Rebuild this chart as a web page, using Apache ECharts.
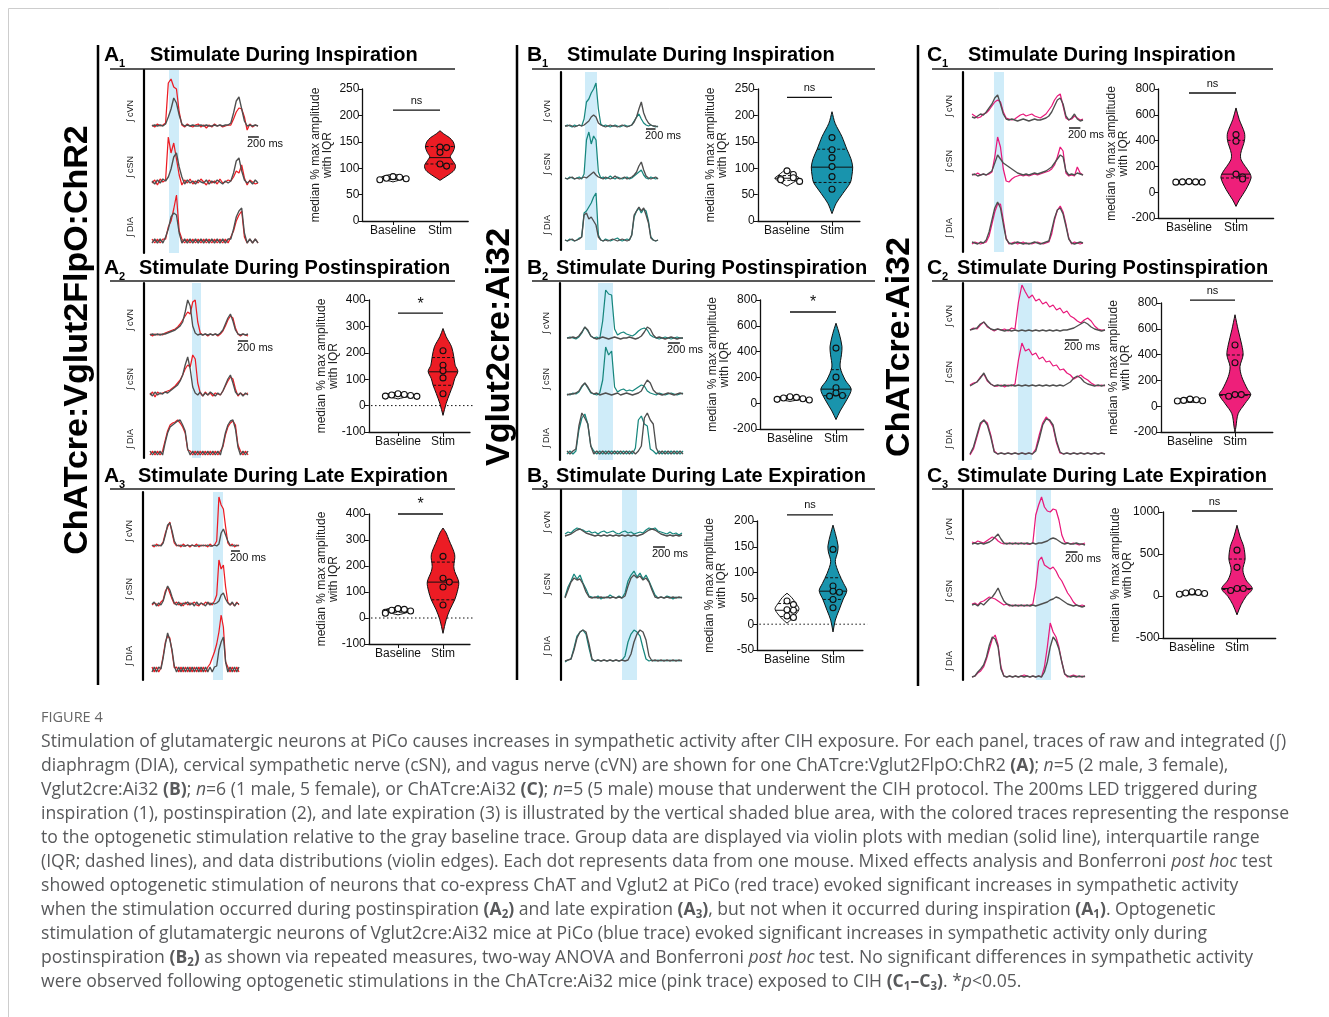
<!DOCTYPE html>
<html>
<head>
<meta charset="utf-8">
<script src="https://cdn.jsdelivr.net/npm/echarts@6/dist/echarts.min.js"></script>
<style>
  html, body { margin: 0; background: #fff; }
  #chart { width: 1329px; height: 1017px; }
</style>
</head>
<body>
<div id="chart"></div>
<script>
// ---- trace data: integrated nerve activity (a.u.), one sample every 50 ms ----
const STEP = 50;
const channels = ['cVN', 'cSN', 'DIA'];
const groups = ['Baseline', 'Stim'];

const a1_cvn_stim = [2,0,3,1,2,4,44,48,40,38, 15,2,0,3,1,0,2,3,0,2, -1,2,0,3,1,2,0,1,2,2, 8,15,19,18,10,-3,3,0,2,1];
const a1_cvn_ctrl = [1,2,1,2,1,3,10,18,29,24, 12,3,1,2,1,2,1,1,2,1, 2,1,1,2,1,2,1,2,2,4, 14,26,30,18,6,1,2,1,2,1];
const a1_csn_stim = [0,3,-2,4,1,3,46,30,40,24, 8,-2,3,0,4,-1,2,0,4,1, -2,3,0,2,-1,4,0,1,3,2, 6,12,10,18,5,-2,3,1,-1,0];
const a1_csn_ctrl = [2,-1,3,0,4,2,6,14,26,30, 16,6,-1,3,0,2,-1,3,1,0, 3,-1,2,0,3,1,-1,2,0,2, 10,22,25,12,3,0,2,-1,3,0];
const a1_dia_stim = [4,0,4,0,4,4,16,22,34,48, 12,4,0,4,0,4,0,4,0,4, 0,4,0,4,0,4,0,4,0,6, 12,22,28,32,6,0,4,0,4,0];
const a1_dia_ctrl = [0,4,0,4,0,6,14,26,30,28, 10,0,4,0,4,0,4,0,4,0, 4,0,4,0,4,0,4,0,4,4, 14,26,32,35,10,0,4,0,4,0];

const a2_cvn_stim = [2,0,2,1,2,1,3,4,5,6, 7,9,12,16,20,24,22,34,36,14, 3,1,2,0,2,1,2,0,2,5, 10,16,20,18,8,2,0,2,1,0];
const a2_cvn_ctrl = [1,2,1,2,1,2,2,3,4,5, 6,8,10,14,24,36,30,10,3,1, 2,1,2,1,2,1,2,1,3,6, 12,18,22,15,6,2,1,2,1,2];
const a2_csn_stim = [0,3,-2,3,1,2,3,4,5,7, 9,12,15,20,26,30,28,40,36,12, 2,-1,3,0,2,-1,2,1,0,4, 9,14,18,16,6,-1,2,0,1,2];
const a2_csn_ctrl = [2,-1,3,0,2,1,3,2,4,6, 8,10,14,20,30,38,26,8,2,0, 3,-1,2,0,3,1,-1,2,0,4, 10,16,20,12,3,0,2,-1,2,0];
const a2_dia_stim = [0,4,0,4,0,4,14,24,30,32, 33,35,32,28,22,5,4,0,4,0, 4,0,4,0,4,0,4,0,4,8, 20,28,32,34,30,10,4,0,4,0];
const a2_dia_ctrl = [4,0,4,0,4,0,12,22,28,30, 32,34,35,30,24,6,0,4,0,4, 0,4,0,4,0,4,0,4,0,10, 22,30,34,35,26,8,0,4,0,4];

const a3_cvn_stim = [2,0,3,1,2,5,14,20,25,14, 4,1,2,0,3,1,2,0,2,1, 3,0,2,1,2,0,3,1,2,6, 50,42,38,20,4,1,3,0,2,1];
const a3_cvn_ctrl = [1,2,1,2,1,4,12,22,24,16, 6,2,1,2,1,1,2,1,2,1, 1,2,1,2,1,2,1,1,2,1, 3,14,18,12,6,2,1,2,1,2];
const a3_csn_stim = [0,2,1,-1,3,5,14,18,12,6, 1,3,0,2,-1,3,0,2,1,3, 0,-1,2,0,3,1,2,0,4,10, 45,36,40,18,3,0,2,-1,3,0];
const a3_csn_ctrl = [1,3,-1,2,0,4,12,19,15,8, 2,0,3,-1,2,1,3,0,2,-1, 3,0,2,1,-1,3,0,2,1,2, 4,10,12,6,2,0,3,-1,2,1];
const a3_dia_stim = [5,0,5,0,4,16,30,36,34,20, 4,5,0,5,0,5,0,5,0,5, 0,5,0,5,0,5,8,14,20,28, 40,57,45,10,5,0,5,0,5,0];
const a3_dia_ctrl = [0,5,0,5,3,14,28,39,32,22, 6,0,5,0,5,0,5,0,5,0, 5,0,5,0,5,0,5,0,5,6, 22,30,35,10,0,5,0,5,0,5];

const b1_cvn_stim = [1,2,1,0,2,1,2,1,8,25, 28,34,38,44,18,3,1,2,1,0, 1,2,1,0,1,2,1,1,2,6, 10,13,8,4,2,1,2,1,0,1];
const b1_cvn_ctrl = [1,1,2,1,0,1,2,1,2,4, 6,10,12,10,4,2,1,0,1,2, 1,1,0,1,2,1,0,1,2,5, 10,18,25,14,8,4,2,1,1,0];
const b1_csn_stim = [2,1,3,2,1,2,3,1,6,40, 48,36,44,40,8,2,3,1,2,4, 2,1,3,2,1,2,3,1,2,4, 6,8,10,5,2,1,3,2,1,2];
const b1_csn_ctrl = [2,1,2,3,1,2,1,2,3,2, 4,6,8,5,3,2,1,3,2,1, 2,4,2,1,2,3,1,2,3,5, 8,14,18,10,4,2,1,2,3,1];
const b1_dia_stim = [1,0,2,1,0,1,3,4,28,30, 34,38,44,48,6,1,0,2,1,0, 1,2,3,1,0,1,2,1,6,24, 30,33,28,32,30,20,4,1,0,1];
const b1_dia_ctrl = [1,0,1,2,0,1,2,4,26,28, 22,24,20,16,4,1,0,1,0,1, 2,1,0,1,2,1,0,1,6,26, 30,34,30,33,26,18,3,1,0,1];

const b2_cvn_stim = [1,2,1,0,2,6,12,8,3,1, 2,0,18,49,45,44,10,4,6,7, 5,4,3,5,8,10,11,9,4,2, 1,0,1,2,1,0,1,2,1,1];
const b2_cvn_ctrl = [1,1,2,1,3,7,12,9,3,1, 0,1,2,1,0,1,2,1,0,1, 1,2,1,0,1,3,7,12,10,4, 1,2,1,0,1,2,1,0,1,1];
const b2_csn_stim = [1,0,2,1,3,8,12,7,2,1, 0,2,15,48,40,44,8,3,5,6, 4,5,4,6,8,10,9,4,2,1, 0,2,1,0,1,2,1,0,1,2];
const b2_csn_ctrl = [0,1,1,2,4,9,12,8,3,1, 2,0,1,2,1,0,1,2,0,1, 2,1,0,1,2,4,10,15,12,5, 2,1,0,1,2,1,0,1,2,1];
const b2_dia_stim = [0,3,0,3,24,36,40,30,8,3, 0,3,0,3,0,3,0,3,0,3, 0,3,0,6,34,38,30,28,5,3, 0,3,0,3,0,3,0,3,0,3];
const b2_dia_ctrl = [3,0,3,5,28,41,36,30,8,0, 3,0,3,0,3,0,3,0,3,0, 3,0,3,0,3,8,36,41,34,30, 6,0,3,0,3,0,3,0,3,0];

const b3_cvn_stim = [4,6,5,8,10,9,8,6,7,5, 6,4,6,7,5,6,7,5,4,6, 7,5,6,4,5,6,5,8,10,9, 10,7,6,5,4,6,4,5,3,5];
const b3_cvn_ctrl = [2,3,4,6,8,9,7,5,4,3, 2,3,2,3,2,3,2,3,2,3, 2,3,2,3,2,3,4,6,8,9, 8,6,4,3,2,3,2,3,2,3];
const b3_csn_stim = [3,13,19,26,21,25,17,11,4,3, 2,4,1,3,2,5,3,2,4,2, 7,19,25,29,23,27,21,25,19,12, 5,2,3,2,4,3,1,3,2,3];
const b3_csn_ctrl = [2,10,18,22,20,21,16,8,3,2, 3,2,3,2,3,2,3,2,3,2, 4,14,22,25,22,24,20,22,18,10, 3,2,3,2,3,2,3,2,3,2];
const b3_dia_stim = [0,2,3,14,26,30,32,28,14,2, 1,2,1,2,1,2,1,2,1,2, 6,20,28,32,30,26,14,3,1,2, 1,2,1,2,1,2,1,2,1,2];
const b3_dia_ctrl = [1,2,3,12,24,30,32,30,18,3, 1,2,1,2,1,2,1,2,1,2, 1,2,8,20,28,32,30,22,6,1, 2,1,2,1,2,1,2,1,2,1];

const c1_cvn_stim = [8,6,4,5,8,9,12,16,20,22, 20,10,4,3,2,3,5,7,8,6, 7,8,6,5,4,6,8,12,16,22, 26,28,16,4,2,3,6,4,2,3];
const c1_cvn_ctrl = [5,4,6,8,7,10,14,18,24,27, 18,8,3,2,3,2,1,2,3,2, 1,2,3,2,2,3,4,6,10,16, 22,24,18,6,2,4,8,3,1,2];
const c1_csn_stim = [3,2,4,2,3,2,3,5,20,40, 30,8,-4,-5,-2,0,1,2,1,2, 1,2,3,2,3,4,5,6,8,12, 20,30,26,4,1,2,1,10,4,2];
const c1_csn_ctrl = [2,3,1,2,3,2,4,6,14,22, 18,14,12,10,8,6,4,3,2,3, 2,3,4,3,4,5,6,8,10,14, 18,22,20,6,2,3,2,4,3,2];
const c1_dia_stim = [0,2,1,0,1,2,8,20,32,40, 40,24,6,0,1,2,0,1,2,0, 1,0,1,2,1,0,1,2,10,24, 34,38,32,20,6,0,2,1,0,1];
const c1_dia_ctrl = [2,1,0,2,1,4,12,24,36,42, 36,20,5,1,0,1,2,1,0,1, 0,1,2,1,0,1,2,3,14,26, 34,36,30,18,5,1,0,1,2,1];

const c2_cvn_stim = [2,4,3,7,10,5,3,1,3,2, 3,1,4,3,30,47,40,34,37,31, 33,28,30,25,27,22,24,19,21,16, 14,11,9,12,14,11,6,3,2,2];
const c2_cvn_ctrl = [2,3,4,8,10,6,3,2,3,2, 1,2,1,2,1,2,1,2,1,2, 1,2,1,2,1,2,1,2,2,3, 4,6,8,10,8,5,3,2,1,2];
const c2_csn_stim = [3,5,6,11,14,7,4,2,2,3, 1,3,2,4,28,45,37,39,33,35, 29,31,26,27,22,23,18,19,15,13, 9,11,13,10,8,5,3,2,3,2];
const c2_csn_ctrl = [2,4,6,10,15,8,4,2,3,2, 3,2,3,2,3,2,3,2,3,2, 3,2,3,2,3,2,3,2,4,6, 10,12,10,6,4,3,2,3,2,3];
const c2_dia_stim = [0,6,18,30,35,32,20,4,1,2, 1,2,1,2,1,2,1,2,1,6, 20,32,38,34,28,12,2,1,2,1, 2,1,2,1,2,1,2,1,2,1];
const c2_dia_ctrl = [1,8,20,32,35,30,18,3,1,2, 1,2,1,2,1,2,1,2,1,4, 16,30,36,35,30,14,3,1,2,1, 2,1,2,1,2,1,2,1,2,1];

const c3_cvn_stim = [3,2,4,3,2,4,6,8,7,4, 2,1,2,1,2,1,2,1,2,1, 1,2,30,40,48,38,34,33,36,35, 25,10,3,2,1,2,1,0,1,2];
const c3_cvn_ctrl = [1,2,1,2,1,2,3,5,8,11, 6,2,1,2,1,2,1,2,1,2, 1,2,1,2,2,3,4,6,7,6, 4,2,1,2,1,1,2,1,1,0];
const c3_csn_stim = [3,4,2,5,6,8,10,9,8,6, 4,2,3,1,2,1,2,1,2,1, 2,3,20,46,50,42,40,38,40,36, 30,26,20,14,10,5,2,1,2,1];
const c3_csn_ctrl = [2,3,1,4,2,5,8,10,14,19, 12,6,3,2,1,2,1,2,1,2, 1,2,1,2,3,4,5,7,8,10, 9,7,5,3,2,1,2,1,0,1];
const c3_dia_stim = [0,1,4,6,10,18,28,38,42,32, 10,1,0,1,0,1,0,1,2,1, 0,1,0,1,0,10,30,54,45,40, 30,15,3,0,1,2,1,0,1,0];
const c3_dia_ctrl = [0,1,5,8,12,20,32,40,38,30, 8,1,0,1,0,1,0,1,0,1, 0,1,0,1,0,5,15,30,40,36, 28,15,3,1,0,1,0,1,0,1];

// LED stimulation windows (ms from trace start)
const a1_win = [313, 497], a2_win = [836, 1015], a3_win = [1367, 1591];
const b1_win = [419, 671], b2_win = [521, 773], b3_win = [950, 1200];
const c1_win = [386, 562], c2_win = [693, 896], c3_win = [1104, 1363];

// ---- group data: median % max amplitude per mouse ----
const a1_base_dots = [84, 83, 81, 80, 78], a1_stim_dots = [140, 139, 130, 108, 104];
const a1_base_q = [79, 81, 84], a1_stim_q = [108, 120, 141];
const a1_base_kde = [[89,0],[86,0.16],[83,0.25],[80,0.24],[77,0.12],[74,0]];
const a1_stim_kde = [[171,0],[165,0.08],[158,0.2],[150,0.28],[140,0.31],[130,0.27],[122,0.22],[114,0.27],[105,0.33],[96,0.3],[88,0.19],[81,0.07],[77,0]];

const a2_base_dots = [45, 42, 40, 38, 36, 35], a2_stim_dots = [208, 153, 132, 105, 45];
const a2_base_q = [36, 39, 42], a2_stim_q = [77, 128, 182];
const a2_base_kde = [[52,0],[47,0.15],[42,0.28],[38,0.3],[33,0.2],[28,0.06],[25,0]];
const a2_stim_kde = [[292,0],[261,0.07],[223,0.19],[185,0.24],[153,0.27],[130,0.33],[102,0.26],[77,0.22],[46,0.15],[8,0.07],[-37,0]];

const a3_base_dots = [36, 33, 30, 27, 22, 18], a3_stim_dots = [237, 153, 138, 119, 50];
const a3_base_q = [22, 30, 34], a3_stim_q = [70, 138, 215];
const a3_base_kde = [[42,0],[37,0.18],[32,0.28],[27,0.26],[20,0.18],[14,0.05],[12,0]];
const a3_stim_kde = [[346,0],[327,0.07],[301,0.13],[243,0.26],[198,0.24],[179,0.26],[138,0.35],[103,0.32],[70,0.26],[31,0.15],[-7,0.07],[-59,0]];

const b1_base_dots = [95, 88, 82, 80, 78, 75], b1_stim_dots = [158, 135, 120, 103, 84, 60];
const b1_base_q = [77, 81, 86], b1_stim_q = [73, 102, 136];
const b1_base_kde = [[100,0],[93,0.1],[86,0.2],[81,0.27],[76,0.2],[70,0.08],[66,0]];
const b1_stim_kde = [[207,0],[185,0.07],[160,0.22],[136,0.33],[118,0.42],[102,0.46],[85,0.44],[73,0.41],[52,0.24],[33,0.09],[14,0]];

const b2_base_dots = [50, 45, 40, 35, 30, 25], b2_stim_dots = [427, 202, 120, 80, 60, 55];
const b2_base_q = [30, 38, 46], b2_stim_q = [58, 109, 260];
const b2_base_kde = [[62,0],[52,0.15],[42,0.28],[35,0.3],[27,0.2],[18,0.06],[14,0]];
const b2_stim_kde = [[620,0],[540,0.07],[440,0.13],[380,0.12],[280,0.09],[180,0.2],[109,0.33],[30,0.24],[-60,0.09],[-127,0]];

const b3_base_dots = [45, 38, 28, 27, 16, 13], b3_stim_dots = [145, 74, 64, 62, 48, 32];
const b3_base_q = [15, 27, 40], b3_stim_q = [48, 64, 90];
const b3_base_kde = [[60,0],[52,0.1],[42,0.18],[30,0.26],[20,0.2],[10,0.1],[2,0]];
const b3_stim_kde = [[192,0],[176,0.05],[152,0.11],[140,0.1],[121,0.05],[98,0.13],[79,0.23],[65,0.3],[48,0.22],[27,0.13],[8,0.05],[-15,0]];

const c1_base_dots = [82, 80, 80, 78, 78], c1_stim_dots = [446, 395, 140, 118, 102];
const c1_base_q = [78, 80, 82], c1_stim_q = [110, 140, 402];
const c1_base_kde = [[92,0],[86,0.18],[80,0.25],[74,0.18],[68,0]];
const c1_stim_kde = [[653,0],[562,0.07],[460,0.18],[400,0.18],[300,0.1],[250,0.11],[150,0.29],[110,0.32],[20,0.21],[-60,0.07],[-110,0]];

const c2_base_dots = [55, 50, 45, 42, 40], c2_stim_dots = [475, 337, 90, 90, 77];
const c2_base_q = [40, 45, 52], c2_stim_q = [84, 90, 397];
const c2_base_kde = [[68,0],[58,0.2],[48,0.28],[40,0.25],[32,0.1],[28,0]];
const c2_stim_kde = [[709,0],[592,0.07],[475,0.15],[397,0.18],[306,0.11],[228,0.15],[130,0.28],[90,0.35],[20,0.22],[-58,0.07],[-162,0.02],[-200,0]];

const c3_base_dots = [50, 42, 35, 30, 20], c3_stim_dots = [546, 341, 89, 89, 65];
const c3_base_q = [25, 35, 45], c3_stim_q = [77, 89, 440];
const c3_base_kde = [[60,0],[48,0.2],[38,0.3],[30,0.28],[20,0.15],[12,0]];
const c3_stim_kde = [[842,0],[704,0.07],[586,0.15],[440,0.18],[309,0.13],[191,0.2],[88,0.34],[-6,0.2],[-105,0.09],[-224,0]];

const sig_labels = ['ns', '*', '*', 'ns', '*', 'ns', 'ns', 'ns', 'ns'];

// ---- colours ----
const RED = '#ec1c24', TEAL = '#17877e', TEAL_FILL = '#1994ad', PINK = '#e8197b', PINK_FILL = '#ee1f7a';
const GRAY = '#4f4f4f', BAND = '#cfecf9', INK = '#111';
const FONT = 'Liberation Sans, Arial, sans-serif';

// ---- panel layout ----
const titles = ['Stimulate During Inspiration', 'Stimulate During Postinspiration', 'Stimulate During Late Expiration'];
const colX = [104, 527, 927], rowY = [55, 268, 476], ruleY = [69, 281, 489];
const ruleX = [[110, 455], [532, 875], [932, 1273]];
const titleX = [[150, 139, 138], [567, 556, 556], [968, 957, 957]];

const panels = [
  { tr: {lineX:144, left:152, width:106, top:70, bottom:253, base:[127,183,243], bar:[248,137]}, win:a1_win,
    traces:[[a1_cvn_stim,a1_cvn_ctrl],[a1_csn_stim,a1_csn_ctrl],[a1_dia_stim,a1_dia_ctrl]],
    vi:{base:393, unit:47, top:89, bottom:221, min:0, max:250, step:50, xMax:1.6, zero:false, sig:210},
    vd:[a1_base_dots,a1_stim_dots,a1_base_q,a1_stim_q,a1_base_kde,a1_stim_kde] },
  { tr: {lineX:144, left:150, width:98, top:283, bottom:458, base:[336,395,455], bar:[238,341]}, win:a2_win,
    traces:[[a2_cvn_stim,a2_cvn_ctrl],[a2_csn_stim,a2_csn_ctrl],[a2_dia_stim,a2_dia_ctrl]],
    vi:{base:398, unit:45, top:300, bottom:432, min:-100, max:400, step:100, xMax:1.6, zero:true, sig:350},
    vd:[a2_base_dots,a2_stim_dots,a2_base_q,a2_stim_q,a2_base_kde,a2_stim_kde] },
  { tr: {lineX:143, left:152, width:87, top:492, bottom:680, base:[547,605,672], bar:[231,551]}, win:a3_win,
    traces:[[a3_cvn_stim,a3_cvn_ctrl],[a3_csn_stim,a3_csn_ctrl],[a3_dia_stim,a3_dia_ctrl]],
    vi:{base:398, unit:45, top:514, bottom:644, min:-100, max:400, step:100, xMax:1.6, zero:true, sig:400},
    vd:[a3_base_dots,a3_stim_dots,a3_base_q,a3_stim_q,a3_base_kde,a3_stim_kde] },
  { tr: {lineX:561, left:565, width:93, top:72, bottom:250, base:[127,180,241], bar:[646,129]}, win:b1_win,
    traces:[[b1_cvn_stim,b1_cvn_ctrl],[b1_csn_stim,b1_csn_ctrl],[b1_dia_stim,b1_dia_ctrl]],
    vi:{base:787, unit:45, top:89, bottom:221, min:0, max:250, step:50, xMax:1.62, zero:false, sig:234},
    vd:[b1_base_dots,b1_stim_dots,b1_base_q,b1_stim_q,b1_base_kde,b1_stim_kde] },
  { tr: {lineX:560, left:567, width:116, top:283, bottom:460, base:[339,395,454], bar:[668,343]}, win:b2_win,
    traces:[[b2_cvn_stim,b2_cvn_ctrl],[b2_csn_stim,b2_csn_ctrl],[b2_dia_stim,b2_dia_ctrl]],
    vi:{base:790, unit:46, top:300, bottom:429, min:-200, max:800, step:200, xMax:1.6, zero:false, sig:707},
    vd:[b2_base_dots,b2_stim_dots,b2_base_q,b2_stim_q,b2_base_kde,b2_stim_kde] },
  { tr: {lineX:561, left:565, width:117, top:490, bottom:680, base:[538,600,662], bar:[653,547]}, win:b3_win,
    traces:[[b3_cvn_stim,b3_cvn_ctrl],[b3_csn_stim,b3_csn_ctrl],[b3_dia_stim,b3_dia_ctrl]],
    vi:{base:787, unit:46, top:521, bottom:650, min:-50, max:200, step:50, xMax:1.65, zero:true, sig:212},
    vd:[b3_base_dots,b3_stim_dots,b3_base_q,b3_stim_q,b3_base_kde,b3_stim_kde] },
  { tr: {lineX:963, left:972, width:111, top:72, bottom:252, base:[122,177,244], bar:[1069,128]}, win:c1_win,
    traces:[[c1_cvn_stim,c1_cvn_ctrl],[c1_csn_stim,c1_csn_ctrl],[c1_dia_stim,c1_dia_ctrl]],
    vi:{base:1189, unit:47, top:89, bottom:218, min:-200, max:800, step:200, xMax:1.8, zero:false, sig:769},
    vd:[c1_base_dots,c1_stim_dots,c1_base_q,c1_stim_q,c1_base_kde,c1_stim_kde] },
  { tr: {lineX:963, left:970, width:135, top:283, bottom:460, base:[332,388,455], bar:[1065,340]}, win:c2_win,
    traces:[[c2_cvn_stim,c2_cvn_ctrl],[c2_csn_stim,c2_csn_ctrl],[c2_dia_stim,c2_dia_ctrl]],
    vi:{base:1190, unit:45, top:303, bottom:432, min:-200, max:800, step:200, xMax:1.84, zero:false, sig:823},
    vd:[c2_base_dots,c2_stim_dots,c2_base_q,c2_stim_q,c2_base_kde,c2_stim_kde] },
  { tr: {lineX:963, left:972, width:113, top:490, bottom:680, base:[545,607,677], bar:[1066,552]}, win:c3_win,
    traces:[[c3_cvn_stim,c3_cvn_ctrl],[c3_csn_stim,c3_csn_ctrl],[c3_dia_stim,c3_dia_ctrl]],
    vi:{base:1192, unit:45, top:512, bottom:638, min:-500, max:1000, step:500, xMax:1.86, zero:false, sig:1012},
    vd:[c3_base_dots,c3_stim_dots,c3_base_q,c3_stim_q,c3_base_kde,c3_stim_kde] }
];
const colColors = [[RED, RED], [TEAL, TEAL_FILL], [PINK, PINK_FILL]];

function halfAt(kde, v) {
  for (let i = 0; i < kde.length - 1; i++) {
    const a = kde[i], b = kde[i + 1];
    if (v <= a[0] && v >= b[0]) return a[1] + (b[1] - a[1]) * (a[0] - v) / (a[0] - b[0]);
  }
  return 0;
}

function violinSeries(g, kde, quart, cx, fill) {
  return {
    type: 'custom', xAxisIndex: g, yAxisIndex: g, z: 3, silent: true, data: [[cx, quart[1]]],
    renderItem: function (p, api) {
      const pts = kde.map(s => api.coord([cx + s[1], s[0]]))
        .concat(kde.slice().reverse().map(s => api.coord([cx - s[1], s[0]])));
      const kids = [{ type: 'polygon', shape: { points: pts, smooth: 0.3 }, style: { fill: fill, stroke: INK, lineWidth: 1 } }];
      quart.forEach(function (q, k) {
        const w = halfAt(kde, q), a = api.coord([cx - w, q]), b = api.coord([cx + w, q]);
        kids.push({ type: 'line', shape: { x1: a[0], y1: a[1], x2: b[0], y2: b[1] },
          style: { stroke: INK, lineWidth: 1, lineDash: k === 1 ? null : [3, 2] } });
      });
      return { type: 'group', children: kids };
    }
  };
}

function dotSeries(g, vals, cx, fill, span) {
  const placed = [];
  const data = vals.map(function (v) {
    const near = placed.filter(p => Math.abs(p - v) < span * 0.035).length;
    placed.push(v);
    const k = near === 0 ? 0 : (near % 2 ? 1 : -1) * Math.ceil(near / 2);
    return [cx + k * 0.14, v];
  });
  return { type: 'scatter', xAxisIndex: g, yAxisIndex: g, z: 4, silent: true, symbolSize: 6, data: data,
    itemStyle: { color: fill, borderColor: INK, borderWidth: 1.1, opacity: 1 } };
}

const grid = [], xAxis = [], yAxis = [], series = [], graphic = [];

panels.forEach(function (P, pi) {
  const col = Math.floor(pi / 3), row = pi % 3;
  const lineCol = colColors[col][0], fillCol = colColors[col][1];
  const T = P.tr, H = T.bottom - T.top;
  const tMax = (P.traces[0][0].length - 1) * STEP;

  // traces
  const gi = grid.length;
  grid.push({ left: T.left, top: T.top, width: T.width, height: H, outerBoundsMode: 'none' });
  xAxis.push({ gridIndex: gi, type: 'value', min: 0, max: tMax, show: false });
  yAxis.push({ gridIndex: gi, type: 'value', min: 0, max: H, offset: T.left - T.lineX,
    axisLine: { show: true, onZero: false, lineStyle: { color: '#000', width: 2.2 } },
    axisTick: { show: false }, axisLabel: { show: false }, splitLine: { show: false } });
  const win = P.win;
  series.push({ type: 'custom', xAxisIndex: gi, yAxisIndex: gi, z: 1, silent: true, data: [[win[0], 0]],
    renderItem: function (p, api) {
      const a = api.coord([win[0], H]), b = api.coord([win[1], 0]);
      return { type: 'rect', shape: { x: a[0], y: a[1], width: b[0] - a[0], height: b[1] - a[1] }, style: { fill: BAND } };
    } });
  P.traces.forEach(function (pair, k) {
    const off = T.bottom - T.base[k];
    [[pair[0], lineCol, 1.25], [pair[1], GRAY, 1.35]].forEach(function (s) {
      series.push({ type: 'line', xAxisIndex: gi, yAxisIndex: gi, z: 2, silent: true, symbol: 'none',
        data: s[0].map((v, i) => [i * STEP, v + off]),
        lineStyle: { color: s[1], width: s[2] }, itemStyle: { color: s[1] }, emphasis: { disabled: true } });
    });
    graphic.push({ type: 'text', x: T.lineX - 13, y: T.base[k] - 16, rotation: Math.PI / 2,
      style: { text: '\u222B ' + channels[k], fontSize: 9, fontFamily: FONT, fill: '#222', align: 'center', verticalAlign: 'middle' } });
  });
  const t0 = (T.bar[0] - T.left) / T.width * tMax, yb = T.bottom - T.bar[1];
  series.push({ type: 'custom', xAxisIndex: gi, yAxisIndex: gi, z: 5, silent: true, data: [[t0, yb]],
    renderItem: function (p, api) {
      const a = api.coord([t0, yb]), b = api.coord([t0 + 200, yb]);
      return { type: 'group', children: [
        { type: 'line', shape: { x1: a[0], y1: a[1], x2: b[0], y2: b[1] }, style: { stroke: INK, lineWidth: 1.4 } },
        { type: 'text', x: a[0] - 1, y: a[1] + 1, style: { text: '200 ms', fontSize: 11, fontFamily: FONT, fill: INK, align: 'left', verticalAlign: 'top' } }
      ] };
    } });

  // violin plot
  const V = P.vi, vg = grid.length;
  grid.push({ left: V.base - 0.65 * V.unit, top: V.top, width: (V.xMax + 0.65) * V.unit, height: V.bottom - V.top, outerBoundsMode: 'none' });
  xAxis.push({ gridIndex: vg, type: 'value', min: -0.65, max: V.xMax,
    axisLine: { show: true, onZero: false, lineStyle: { color: INK, width: 1.3 } },
    axisTick: { show: true, customValues: [0, 1], length: 4, lineStyle: { color: INK } },
    axisLabel: { customValues: [0, 1], formatter: v => groups[Math.round(v)], fontSize: 12, fontFamily: FONT, color: INK, margin: 4 },
    splitLine: { show: false } });
  yAxis.push({ gridIndex: vg, type: 'value', min: V.min, max: V.max, interval: V.step,
    axisLine: { show: true, onZero: false, lineStyle: { color: INK, width: 1.3 } },
    axisTick: { show: true, length: 4, lineStyle: { color: INK } },
    axisLabel: { fontSize: 12, fontFamily: FONT, color: INK, margin: 3, formatter: v => String(v) },
    splitLine: { show: false },
    name: 'median % max amplitude\nwith IQR', nameLocation: 'middle', nameRotate: 90, nameGap: 29, nameMoveOverlap: false,
    nameTextStyle: { fontSize: 12, lineHeight: 12, fontFamily: FONT, color: '#222' } });
  const span = V.max - V.min;
  const d = P.vd;
  series.push(violinSeries(vg, d[4], d[2], 0, '#fff'));
  series.push(violinSeries(vg, d[5], d[3], 1, fillCol));
  series.push(dotSeries(vg, d[0], 0, '#fff', span));
  series.push(dotSeries(vg, d[1], 1, fillCol, span));
  const sigY = V.sig, lab = sig_labels[pi];
  series.push({ type: 'custom', xAxisIndex: vg, yAxisIndex: vg, z: 5, silent: true, data: [[0.5, sigY]],
    renderItem: function (p, api) {
      const a = api.coord([0, sigY]), b = api.coord([1, sigY]);
      return { type: 'group', children: [
        { type: 'line', shape: { x1: a[0], y1: a[1], x2: b[0], y2: b[1] }, style: { stroke: INK, lineWidth: 1.3 } },
        { type: 'text', x: (a[0] + b[0]) / 2, y: a[1] - (lab === '*' ? 1 : 4),
          style: { text: lab, fontSize: lab === '*' ? 16 : 11, fontFamily: FONT, fill: INK, align: 'center', verticalAlign: 'bottom' } }
      ] };
    } });
  if (V.zero) {
    const xm = V.xMax;
    series.push({ type: 'custom', xAxisIndex: vg, yAxisIndex: vg, z: 2, silent: true, data: [[0, 0]],
      renderItem: function (p, api) {
        const a = api.coord([-0.6, 0]), b = api.coord([xm + 0.1, 0]);
        return { type: 'line', shape: { x1: a[0], y1: a[1], x2: b[0], y2: b[1] }, style: { stroke: INK, lineWidth: 1, lineDash: [1.5, 2.5] } };
      } });
  }

  // panel heading
  const letter = 'ABC'[col];
  graphic.push({ type: 'text', x: colX[col], y: rowY[row],
    style: { text: letter, fontSize: 21, fontWeight: 'bold', fontFamily: FONT, fill: '#000', align: 'left', verticalAlign: 'middle' } });
  graphic.push({ type: 'text', x: colX[col] + 15, y: rowY[row] + 9,
    style: { text: String(row + 1), fontSize: 11, fontWeight: 'bold', fontFamily: FONT, fill: '#000', align: 'left', verticalAlign: 'middle' } });
  graphic.push({ type: 'text', x: titleX[col][row], y: rowY[row],
    style: { text: titles[row], fontSize: 20, fontWeight: 'bold', fontFamily: FONT, fill: '#000', align: 'left', verticalAlign: 'middle' } });
  graphic.push({ type: 'line', shape: { x1: ruleX[col][0], y1: ruleY[row], x2: ruleX[col][1], y2: ruleY[row] },
    style: { stroke: '#222', lineWidth: 1.3 } });
});

// frame, strain labels and separators
graphic.push({ type: 'rect', shape: { x: 8.5, y: 8.5, width: 1340, height: 1040 }, style: { fill: 'none', stroke: '#cdcdcd', lineWidth: 1 } });
[[98, 45, 685], [517, 45, 680], [918, 45, 686]].forEach(function (s) {
  graphic.push({ type: 'line', shape: { x1: s[0], y1: s[1], x2: s[0], y2: s[2] }, style: { stroke: '#000', lineWidth: 2.5 } });
});
[['ChATcre:Vglut2FlpO:ChR2', 78, 340], ['Vglut2cre:Ai32', 500, 347], ['ChATcre:Ai32', 900, 347]].forEach(function (s) {
  graphic.push({ type: 'text', x: s[1], y: s[2], rotation: Math.PI / 2,
    style: { text: s[0], fontSize: 34, fontWeight: 'bold', fontFamily: FONT, fill: '#000', align: 'center', verticalAlign: 'middle' } });
});

// caption
const CAP_FONT = 'Open Sans, Noto Sans, sans-serif', CAP_COL = '#58595b', CAP_SIZE = 17.6;
const capRich = {
  n: { fontSize: CAP_SIZE, fontFamily: CAP_FONT, fill: CAP_COL, lineHeight: 22 },
  b: { fontSize: CAP_SIZE, fontFamily: CAP_FONT, fill: CAP_COL, lineHeight: 22, fontWeight: 'bold' },
  i: { fontSize: CAP_SIZE, fontFamily: CAP_FONT, fill: CAP_COL, lineHeight: 22, fontStyle: 'italic' },
  bs: { fontSize: 11.5, fontFamily: CAP_FONT, fill: CAP_COL, lineHeight: 13, fontWeight: 'bold', verticalAlign: 'bottom' }
};
const caption = [
  '{n|Stimulation of glutamatergic neurons at PiCo causes increases in sympathetic activity after CIH exposure. For each panel, traces of raw and integrated (}{i|\u222B}{n|)}',
  '{n|diaphragm (DIA), cervical sympathetic nerve (cSN), and vagus nerve (cVN) are shown for one ChATcre:Vglut2FlpO:ChR2 }{b|(A)}{n|; }{i|n}{n|=5 (2 male, 3 female),}',
  '{n|Vglut2cre:Ai32 }{b|(B)}{n|; }{i|n}{n|=6 (1 male, 5 female), or ChATcre:Ai32 }{b|(C)}{n|; }{i|n}{n|=5 (5 male) mouse that underwent the CIH protocol. The 200ms LED triggered during}',
  '{n|inspiration (1), postinspiration (2), and late expiration (3) is illustrated by the vertical shaded blue area, with the colored traces representing the response}',
  '{n|to the optogenetic stimulation relative to the gray baseline trace. Group data are displayed via violin plots with median (solid line), interquartile range}',
  '{n|(IQR; dashed lines), and data distributions (violin edges). Each dot represents data from one mouse. Mixed effects analysis and Bonferroni }{i|post hoc}{n| test}',
  '{n|showed optogenetic stimulation of neurons that co-express ChAT and Vglut2 at PiCo (red trace) evoked significant increases in sympathetic activity}',
  '{n|when the stimulation occurred during postinspiration }{b|(A}{bs|2}{b|)}{n| and late expiration }{b|(A}{bs|3}{b|)}{n|, but not when it occurred during inspiration }{b|(A}{bs|1}{b|)}{n|. Optogenetic}',
  '{n|stimulation of glutamatergic neurons of Vglut2cre:Ai32 mice at PiCo (blue trace) evoked significant increases in sympathetic activity only during}',
  '{n|postinspiration }{b|(B}{bs|2}{b|)}{n| as shown via repeated measures, two-way ANOVA and Bonferroni }{i|post hoc}{n| test. No significant differences in sympathetic activity}',
  '{n|were observed following optogenetic stimulations in the ChATcre:Ai32 mice (pink trace) exposed to CIH }{b|(C}{bs|1}{b|\u2013C}{bs|3}{b|)}{n|. *}{i|p}{n|<0.05.}'
];
graphic.push({ type: 'text', x: 41, y: 718,
  style: { text: 'FIGURE 4', fontSize: 14.5, fontFamily: CAP_FONT, fill: '#666', align: 'left', verticalAlign: 'middle' } });
caption.forEach(function (line, i) {
  graphic.push({ type: 'text', x: 41, y: 742 + i * 24,
    style: { text: line, rich: capRich, fontSize: CAP_SIZE, fontFamily: CAP_FONT, fill: CAP_COL, align: 'left', verticalAlign: 'middle' } });
});

const chart = echarts.init(document.getElementById('chart'), null, { renderer: 'canvas' });
chart.setOption({
  backgroundColor: '#fff',
  animation: false,
  textStyle: { fontFamily: FONT },
  grid: grid, xAxis: xAxis, yAxis: yAxis, series: series, graphic: graphic
});
</script>
</body>
</html>
